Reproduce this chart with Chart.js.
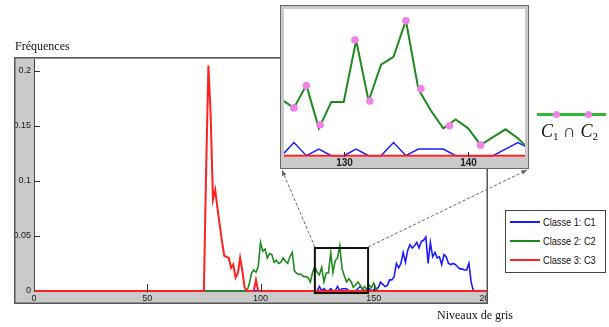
<!DOCTYPE html>
<html>
<head>
<meta charset="utf-8">
<script src="https://cdn.jsdelivr.net/npm/chart.js@4.4.0/dist/chart.umd.min.js"></script>
<style>
  html, body { margin: 0; padding: 0; background: #fff; }
  #wrap { position: relative; width: 609px; height: 327px; overflow: hidden; }
  #main { position: absolute; left: 0; top: 0; }
  #zoom { position: absolute; left: 280px; top: 5px; }
  .title { position: absolute; font-family: 'Liberation Serif', 'Times New Roman', serif; font-size: 12px; line-height: 12px; color: #111; white-space: nowrap; }
  #legend { position: absolute; left: 505px; top: 210px; width: 101px; height: 63px; border: 1.5px solid #444; background: #fff; box-sizing: border-box; }
  .item { position: absolute; left: 4px; height: 12px; width: 92px; }
  .item .line { position: absolute; left: 0; top: 5px; width: 30px; height: 2.5px; }
  .item .txt { position: absolute; left: 33px; top: 0; line-height: 12px; font-family: 'Liberation Sans', Arial, sans-serif; font-size: 11.5px; color: #111; white-space: nowrap; transform: scaleX(0.8); transform-origin: left center; }
  #inter-line { position: absolute; left: 537px; top: 113px; width: 69px; height: 2.5px; background: #33b833; }
  .dot { position: absolute; width: 7px; height: 7px; border-radius: 50%; background: #ee82e6; }
  #inter-txt { position: absolute; left: 541px; top: 122px; font-family: 'Liberation Serif', 'Times New Roman', serif; font-size: 18px; line-height: 18px; color: #111; white-space: nowrap; }
  #inter-txt sub { font-size: 11px; font-style: normal; vertical-align: -3px; }
</style>
</head>
<body>
<div id="wrap">
  <canvas id="main" width="609" height="327"></canvas>
  <canvas id="zoom" width="249" height="164"></canvas>
  <div class="title" style="left:15px; top:40px;">Fréquences</div>
  <div class="title" style="left:437px; top:309px;">Niveaux de gris</div>
  <div id="legend"></div>
  <div id="inter-line"></div>
  <div class="dot" style="left:552.5px; top:110.5px;"></div>
  <div class="dot" style="left:584.5px; top:110.5px;"></div>
  <div id="inter-txt"><i>C</i><sub>1</sub> ∩ <i>C</i><sub>2</sub></div>
</div>
<script>
// axis ticks
const xTicks = [0, 50, 100, 150, 200];
const yTicks = [0, 0.05, 0.1, 0.15, 0.2];
const yTickLabels = ['0', '0.05', '0.1', '0.15', '0.2'];
const zoomTicks = [130, 140];

// Classe 1 (blue), values from gray level 124
const c1Start = 124;
const c1Values = [0, 0, 0.004, 0, 0.002, 0, 0, 0.002, 0, 0, 0.004, 0, 0.002, 0.002, 0.002, 0,
  0, 0, 0, 0.002, 0.004, 0.002, 0, 0.001, 0.002, 0, 0.001, 0.002, 0.003, 0.008, 0.006, 0.004,
  0.005, 0.01, 0.01, 0.013, 0.025, 0.021, 0.025, 0.035, 0.026, 0.037, 0.042, 0.039, 0.041, 0.044,
  0.039, 0.045, 0.046, 0.049, 0.025, 0.044, 0.031, 0.035, 0.03, 0.031, 0.024, 0.033, 0.031, 0.025,
  0.024, 0.025, 0.024, 0.022, 0.02, 0.02, 0.019, 0.019, 0.025, 0.008, 0];

// Classe 2 (green), values from gray level 94
const c2Start = 94;
const c2Values = [0, 0.006, 0.016, 0.019, 0.017, 0.022, 0.044, 0.036, 0.038, 0.03, 0.034, 0.033,
  0.026, 0.028, 0.025, 0.026, 0.03, 0.027, 0.025, 0.031, 0.035, 0.018, 0.016, 0.015, 0.015, 0.013,
  0.013, 0.012, 0.008, 0.017, 0.022, 0.017, 0.0145, 0.0214, 0.0083, 0.0163, 0.0163, 0.035, 0.0166,
  0.0276, 0.03, 0.041, 0.0202, 0.0137, 0.0083, 0.011, 0.0083, 0.0033, 0.0056, 0.008, 0.0053,
  0.0015, 0.004, 0.001, 0.005, 0.003, 0.007, 0.002, 0];

// Classe 3 (red), values from gray level 74
const c3Start = 74;
const c3Values = [0, 0, 0.11, 0.205, 0.16, 0.083, 0.092, 0.075, 0.06, 0.045, 0.032, 0.031, 0.03,
  0.021, 0.024, 0.012, 0.016, 0.03, 0.018, 0.003, 0, 0, 0, 0, 0.01, 0, 0];

// pixels in both classes (pink marks in the zoom)
const interX = [126.0, 127.0, 128.1, 130.9, 132.1, 135.0, 136.2, 138.5, 141.0];
const interY = [0.0145, 0.0213, 0.0094, 0.0351, 0.0166, 0.0409, 0.0203, 0.0091, 0.0032];

const seriesNames = ['Classe 1: C1', 'Classe 2: C2', 'Classe 3: C3'];
const seriesColors = ['#1c1cff', '#1f8a1f', '#ff2020'];

const frame = { left: 14, top: 57, right: 488, bottom: 304 };
const zoomRange = { xMin: 124, xMax: 147.5, yMax: 0.039 };
const zoomPos = { left: 280, top: 5, width: 249, height: 164 };

function toPoints(start, values) {
  const pts = [{ x: 0, y: 0 }];
  values.forEach((v, i) => pts.push({ x: start + i, y: v }));
  pts.push({ x: 200, y: 0 });
  return pts;
}

const c1 = toPoints(c1Start, c1Values);
const c2 = toPoints(c2Start, c2Values);
const c3 = toPoints(c3Start, c3Values);

function lineSet(i, data, width) {
  return {
    label: seriesNames[i], data, borderColor: seriesColors[i], borderWidth: width,
    pointRadius: 0, tension: 0, fill: false, order: 3 - i
  };
}

function drawArrow(ctx, x0, y0, x1, y1) {
  ctx.save();
  ctx.strokeStyle = '#666'; ctx.fillStyle = '#666'; ctx.lineWidth = 1;
  ctx.setLineDash([3, 2]);
  ctx.beginPath(); ctx.moveTo(x0, y0); ctx.lineTo(x1, y1); ctx.stroke();
  ctx.setLineDash([]);
  const ang = Math.atan2(y1 - y0, x1 - x0);
  ctx.beginPath();
  ctx.moveTo(x1, y1);
  ctx.lineTo(x1 - 6 * Math.cos(ang - 0.4), y1 - 6 * Math.sin(ang - 0.4));
  ctx.lineTo(x1 - 6 * Math.cos(ang + 0.4), y1 - 6 * Math.sin(ang + 0.4));
  ctx.closePath(); ctx.fill();
  ctx.restore();
}

const mainDeco = {
  id: 'mainDeco',
  beforeDraw(chart) {
    const ctx = chart.ctx, a = chart.chartArea;
    ctx.save();
    ctx.fillStyle = '#cacaca';
    ctx.fillRect(frame.left, frame.top, frame.right - frame.left, frame.bottom - frame.top);
    ctx.fillStyle = '#fff';
    ctx.fillRect(a.left, a.top, a.right - a.left, a.bottom - a.top);
    ctx.restore();
  },
  afterDraw(chart) {
    const ctx = chart.ctx, a = chart.chartArea, xs = chart.scales.x, ys = chart.scales.y;
    ctx.save();
    ctx.strokeStyle = '#444'; ctx.lineWidth = 1;
    ctx.beginPath(); ctx.moveTo(a.left + 0.5, a.top); ctx.lineTo(a.left + 0.5, a.bottom); ctx.stroke();
    ctx.strokeStyle = '#333';
    yTicks.forEach(v => {
      if (v === 0) return;
      const y = Math.round(ys.getPixelForValue(v)) + 0.5;
      ctx.beginPath(); ctx.moveTo(a.left, y); ctx.lineTo(a.left + 6, y); ctx.stroke();
    });
    xTicks.forEach(v => {
      if (v === 0 || v === 200) return;
      const x = Math.round(xs.getPixelForValue(v)) + 0.5;
      ctx.beginPath(); ctx.moveTo(x, a.bottom); ctx.lineTo(x, a.bottom - 8); ctx.stroke();
    });
    ctx.fillStyle = '#1a1a1a';
    ctx.font = '9px "Liberation Sans", Arial, sans-serif';
    ctx.textAlign = 'right'; ctx.textBaseline = 'middle';
    yTicks.forEach((v, i) => ctx.fillText(yTickLabels[i], a.left - 3, ys.getPixelForValue(v)));
    ctx.save();
    ctx.beginPath(); ctx.rect(frame.left, frame.top, frame.right - frame.left, frame.bottom - frame.top); ctx.clip();
    ctx.textAlign = 'center'; ctx.textBaseline = 'top';
    xTicks.forEach(v => ctx.fillText(String(v), xs.getPixelForValue(v), a.bottom + 2));
    ctx.restore();
    ctx.strokeStyle = '#555'; ctx.lineWidth = 1.5;
    ctx.strokeRect(frame.left + 0.75, frame.top + 0.75, frame.right - frame.left - 1.5, frame.bottom - frame.top - 1.5);

    // zoomed region
    const bx0 = xs.getPixelForValue(zoomRange.xMin), bx1 = xs.getPixelForValue(zoomRange.xMax);
    const by = ys.getPixelForValue(zoomRange.yMax);
    ctx.strokeStyle = '#111'; ctx.lineWidth = 2;
    ctx.strokeRect(bx0, by, bx1 - bx0, a.bottom + 1 - by);
    ctx.restore();
    const ey = zoomPos.top + zoomPos.height + 1;
    drawArrow(ctx, bx0, by - 1, zoomPos.left + 2, ey);
    drawArrow(ctx, bx1, by - 1, zoomPos.left + zoomPos.width - 2, ey);
  }
};

new Chart(document.getElementById('main'), {
  type: 'line',
  data: { datasets: [lineSet(0, c1, 1.6), lineSet(1, c2, 1.6), lineSet(2, c3, 2)] },
  options: {
    responsive: false, animation: false, events: [],
    layout: { padding: { left: 34, top: 59, right: 122, bottom: 35 } },
    plugins: { legend: { display: false }, tooltip: { enabled: false } },
    scales: {
      x: { type: 'linear', display: false, min: 0, max: 200 },
      y: { display: false, min: -0.001, max: 0.2109 }
    }
  },
  plugins: [mainDeco]
});

const zoomDeco = {
  id: 'zoomDeco',
  beforeDraw(chart) {
    const ctx = chart.ctx, a = chart.chartArea;
    ctx.save();
    ctx.fillStyle = '#cacaca';
    ctx.fillRect(0, 0, chart.width, chart.height);
    ctx.fillStyle = '#fff';
    ctx.fillRect(a.left, a.top, a.right - a.left, a.bottom - a.top);
    ctx.restore();
  },
  afterDraw(chart) {
    const ctx = chart.ctx, a = chart.chartArea, xs = chart.scales.x;
    ctx.save();
    ctx.strokeStyle = '#333'; ctx.lineWidth = 1;
    ctx.fillStyle = '#222';
    ctx.font = 'bold 10px "Liberation Sans", Arial, sans-serif';
    ctx.textAlign = 'center'; ctx.textBaseline = 'middle';
    zoomTicks.forEach(v => {
      const x = Math.round(xs.getPixelForValue(v)) + 0.5;
      ctx.beginPath(); ctx.moveTo(x, a.bottom); ctx.lineTo(x, a.bottom - 5); ctx.stroke();
      ctx.fillText(String(v), x, a.bottom + 6);
    });
    ctx.strokeStyle = '#666';
    ctx.strokeRect(0.5, 0.5, chart.width - 1, chart.height - 1);
    ctx.restore();
  }
};

new Chart(document.getElementById('zoom'), {
  type: 'line',
  data: {
    datasets: [
      { label: 'C1 ∩ C2', data: interX.map((x, i) => ({ x, y: interY[i] })), showLine: false,
        pointRadius: 3.8, pointBackgroundColor: '#ee82e6', pointBorderWidth: 0, order: 0 },
      lineSet(0, c1, 1.5), lineSet(1, c2, 2), lineSet(2, c3, 2)
    ]
  },
  options: {
    responsive: false, animation: false, events: [],
    layout: { padding: { left: 1, top: 1, right: 2, bottom: 12 } },
    plugins: { legend: { display: false }, tooltip: { enabled: false } },
    scales: {
      x: { type: 'linear', display: false, min: 125.2, max: 144.57 },
      y: { display: false, min: -0.0004, max: 0.0445 }
    }
  },
  plugins: [zoomDeco]
});

// legend
const legend = document.getElementById('legend');
const rowCenters = [10.5, 29.5, 48.5];
seriesNames.forEach((name, i) => {
  const item = document.createElement('div');
  item.className = 'item';
  item.style.top = (rowCenters[i] - 6) + 'px';
  item.innerHTML = '<span class="line" style="background:' + seriesColors[i] + '"></span><span class="txt">' + name + '</span>';
  legend.appendChild(item);
});
</script>
</body>
</html>
